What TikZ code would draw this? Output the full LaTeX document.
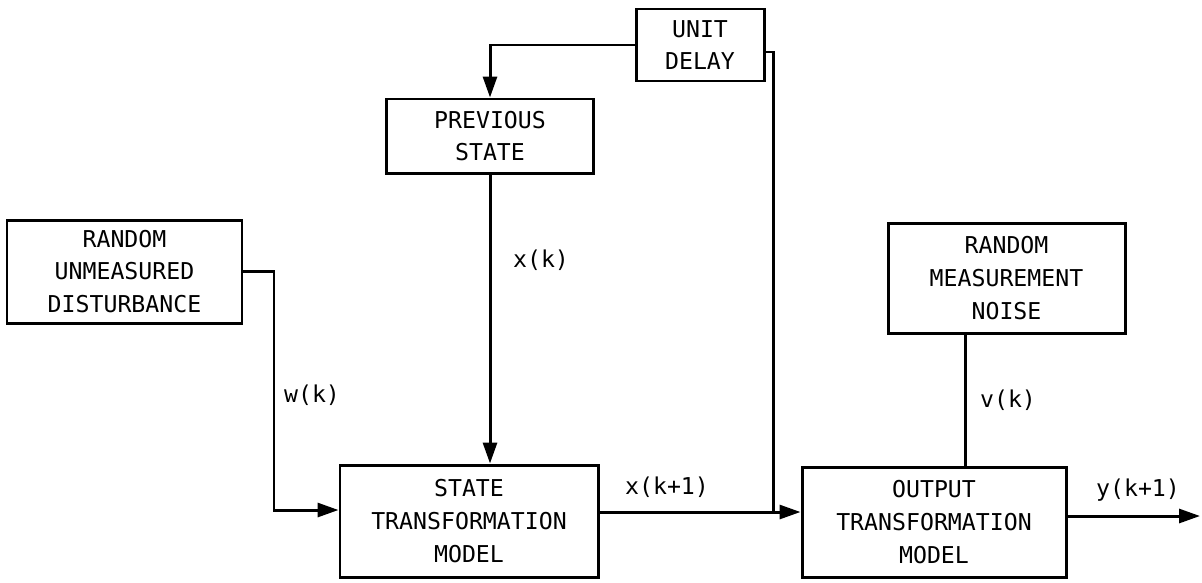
\documentclass[tikz,border=0pt]{standalone}
\usepackage{fontspec}
\setmainfont{DejaVu Sans Mono}
\usetikzlibrary{arrows.meta, positioning, calc}

\begin{document}
\begin{tikzpicture}[x=0.02cm, y=-0.02cm, line width=1.7pt,
    font=\fontsize{13.2pt}{18.7pt}\selectfont,
    block/.style={draw, align=center, inner sep=0pt},
    sig/.style={-{Triangle[length=4.2mm, width=2.8mm]}},
    sigLabel/.style={inner sep=0pt}]%
    \def\px{0.02cm}
    \useasboundingbox (0,0) rectangle (1202,582);
    % blocks
    \node (unitDelay) [block, minimum width=128*\px, minimum height=72*\px] at (700,45) {UNIT\\DELAY};
    \node (prevState) [block, minimum width=207*\px, minimum height=74*\px] at (490,136) {PREVIOUS\\STATE};
    \node (disturbance) [block, minimum width=235*\px, minimum height=103*\px] at (124.5,271.5) {RANDOM\\UNMEASURED\\DISTURBANCE};
    \node (stateModel) [block, minimum width=258*\px, minimum height=112*\px] at (469,521) {STATE\\TRANSFORMATION\\MODEL};
    \node (noise) [block, minimum width=237*\px, minimum height=110*\px] at (1006.5,278) {RANDOM\\MEASUREMENT\\NOISE};
    \node (outputModel) [block, minimum width=264*\px, minimum height=110*\px] at (934,522) {OUTPUT\\TRANSFORMATION\\MODEL};
    % bends and taps
    \coordinate (xTap) at (773,512);
    \coordinate (wBend) at (274,510);
    \coordinate (vTap) at (965,0);
    \coordinate (yEnd) at (1200,516);
    % connectors
    \draw [sig] (unitDelay.west) -| (prevState.north);
    \draw [sig] (prevState.south) -- (prevState.south |- stateModel.north);
    \draw [sig] (disturbance.east) -| (wBend) -- (stateModel.west |- wBend);
    \draw [sig] (stateModel.east |- xTap) -- (outputModel.west |- xTap);
    \draw ([yshift=-7*\px]unitDelay.east) -| (xTap);
    \draw (noise.south -| vTap) -- (outputModel.north -| vTap);
    \draw [sig] (outputModel.east |- yEnd) -- (yEnd);
    % signal labels
    \node (xkLabel) [sigLabel] at (541,260) {x(k)};
    \node (wkLabel) [sigLabel] at (312,395) {w(k)};
    \node (xkNextLabel) [sigLabel] at (667,487) {x(k+1)};
    \node (vkLabel) [sigLabel] at (1008,400) {v(k)};
    \node (ykNextLabel) [sigLabel] at (1138,490) {y(k+1)};
\end{tikzpicture}
\end{document}
